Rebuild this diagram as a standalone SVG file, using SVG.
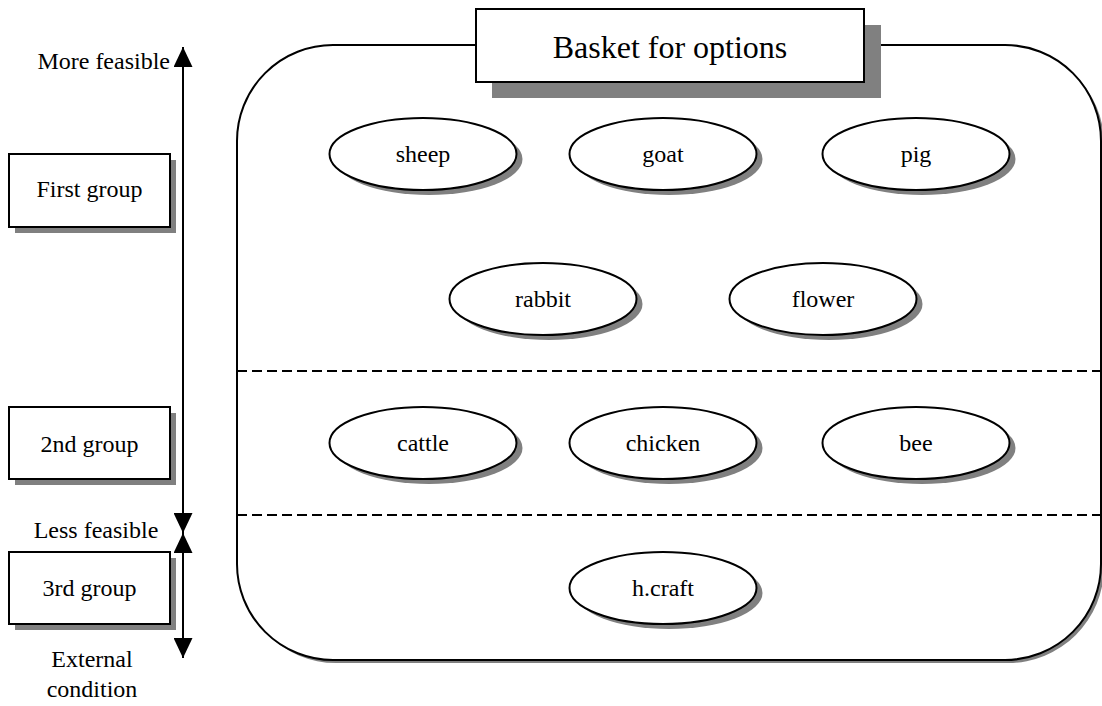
<svg xmlns="http://www.w3.org/2000/svg" width="1102" height="706" viewBox="0 0 1102 706">
<defs>
<style>
.shadow{fill:#808080;stroke:none}
.shape{fill:#ffffff;stroke:#000000;stroke-width:2}
.lbl{font-family:"Liberation Serif","Times New Roman",serif;font-size:24px;fill:#000000;text-anchor:middle}
.title{font-family:"Liberation Serif","Times New Roman",serif;font-size:32px;fill:#000000;text-anchor:middle}
.dash{stroke:#000000;stroke-width:2;stroke-dasharray:10,5;fill:none}
.axis{stroke:#000000;stroke-width:2;fill:none}
</style>
<marker id="ah" viewBox="0 0 20 19" refX="20" refY="9.5" markerWidth="20" markerHeight="19" markerUnits="userSpaceOnUse" orient="auto">
<path d="M0,0 L20,9.5 L0,19 Z" fill="#000000"/>
</marker>
</defs>
<rect width="1102" height="706" fill="#ffffff"/>

<g id="basket">
<rect class="shadow" x="240" y="48" width="864" height="615" rx="96" ry="96"/>
<rect class="shape" x="237" y="45" width="864" height="615" rx="96" ry="96"/>
<line class="dash" x1="237" y1="371" x2="1102" y2="371"/>
<line class="dash" x1="237" y1="515" x2="1102" y2="515"/>
</g>

<g id="title">
<rect class="shadow" x="492" y="25" width="389" height="73"/>
<rect class="shape" x="476" y="9" width="388" height="73"/>
<text class="title" x="670" y="58">Basket for options</text>
</g>

<g id="connectors">
<line class="axis" x1="183" y1="533" x2="183" y2="47" marker-end="url(#ah)"/>
<line class="axis" x1="183" y1="70" x2="183" y2="533" marker-end="url(#ah)"/>
<line class="axis" x1="183" y1="658" x2="183" y2="533" marker-end="url(#ah)"/>
<line class="axis" x1="183" y1="540" x2="183" y2="658" marker-end="url(#ah)"/>
</g>

<g id="labels-axis">
<text class="lbl" x="170" y="69" style="text-anchor:end">More feasible</text>
<text class="lbl" x="96" y="538">Less feasible</text>
<text class="lbl" x="92" y="667">External</text>
<text class="lbl" x="92" y="697">condition</text>
</g>

<g id="group1">
<rect class="shadow" x="15" y="160" width="161" height="73"/>
<rect class="shape" x="9" y="154" width="161" height="73"/>
<text class="lbl" x="89.5" y="197">First group</text>
</g>
<g id="group2">
<rect class="shadow" x="15" y="413" width="161" height="72"/>
<rect class="shape" x="9" y="407" width="161" height="72"/>
<text class="lbl" x="89.5" y="452">2nd group</text>
</g>
<g id="group3">
<rect class="shadow" x="15" y="558" width="161" height="72"/>
<rect class="shape" x="9" y="552" width="161" height="72"/>
<text class="lbl" x="89.5" y="596">3rd group</text>
</g>

<g id="sheep">
<ellipse class="shadow" cx="429" cy="159" rx="93.5" ry="36"/>
<ellipse class="shape" cx="423" cy="154" rx="93.5" ry="36"/>
<text class="lbl" x="423" y="162">sheep</text>
</g>
<g id="goat">
<ellipse class="shadow" cx="669" cy="159" rx="93.5" ry="36"/>
<ellipse class="shape" cx="663" cy="154" rx="93.5" ry="36"/>
<text class="lbl" x="663" y="162">goat</text>
</g>
<g id="pig">
<ellipse class="shadow" cx="922" cy="159" rx="93.5" ry="36"/>
<ellipse class="shape" cx="916" cy="154" rx="93.5" ry="36"/>
<text class="lbl" x="916" y="162">pig</text>
</g>
<g id="rabbit">
<ellipse class="shadow" cx="549" cy="304" rx="93.5" ry="36"/>
<ellipse class="shape" cx="543" cy="299" rx="93.5" ry="36"/>
<text class="lbl" x="543" y="307">rabbit</text>
</g>
<g id="flower">
<ellipse class="shadow" cx="829" cy="304" rx="93.5" ry="36"/>
<ellipse class="shape" cx="823" cy="299" rx="93.5" ry="36"/>
<text class="lbl" x="823" y="307">flower</text>
</g>
<g id="cattle">
<ellipse class="shadow" cx="429" cy="448" rx="93.5" ry="36"/>
<ellipse class="shape" cx="423" cy="443" rx="93.5" ry="36"/>
<text class="lbl" x="423" y="451">cattle</text>
</g>
<g id="chicken">
<ellipse class="shadow" cx="669" cy="448" rx="93.5" ry="36"/>
<ellipse class="shape" cx="663" cy="443" rx="93.5" ry="36"/>
<text class="lbl" x="663" y="451">chicken</text>
</g>
<g id="bee">
<ellipse class="shadow" cx="922" cy="448" rx="93.5" ry="36"/>
<ellipse class="shape" cx="916" cy="443" rx="93.5" ry="36"/>
<text class="lbl" x="916" y="451">bee</text>
</g>
<g id="hcraft">
<ellipse class="shadow" cx="669" cy="593" rx="93.5" ry="36"/>
<ellipse class="shape" cx="663" cy="588" rx="93.5" ry="36"/>
<text class="lbl" x="663" y="596">h.craft</text>
</g>
</svg>
